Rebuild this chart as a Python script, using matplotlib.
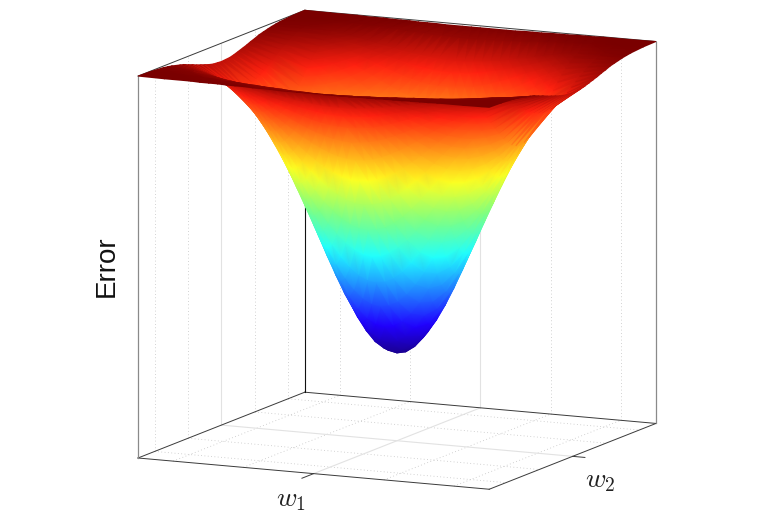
import matplotlib
matplotlib.use("Agg")
import matplotlib.pyplot as plt
import numpy as np
from matplotlib.colors import LinearSegmentedColormap
from matplotlib.tri import Triangulation
from mpl_toolkits.mplot3d import proj3d

# nodes for w >= 0, the surface is mirrored around the minimum
w1_half = [0, .05, .1, .15, .2, .25, .3, .35, .4, .45, .5, .55, .6, .65, .7, .85, 1]
w2_half = [0, .05, .1, .15, .2, .25, .3, .35, .4, .45, .5, .55, .6, .65, .7, .85, 1]

# error, rows are w1, columns are w2 (box height = 1)
error_quarter = [
    [.230, .240, .268, .312, .370, .437, .509, .583, .654, .720, .779, .830, .873, .907, .934, .979, .995],
    [.235, .245, .273, .317, .374, .441, .512, .586, .656, .722, .781, .831, .874, .908, .934, .979, .995],
    [.251, .260, .288, .331, .387, .452, .523, .594, .664, .728, .785, .835, .876, .909, .935, .980, .995],
    [.277, .286, .312, .354, .408, .471, .539, .608, .675, .737, .793, .841, .880, .913, .938, .981, .995],
    [.311, .320, .345, .384, .436, .496, .561, .627, .690, .750, .803, .848, .886, .917, .941, .981, .995],
    [.353, .361, .384, .422, .470, .526, .587, .649, .709, .765, .815, .857, .893, .922, .944, .983, .996],
    [.400, .408, .430, .464, .509, .561, .618, .675, .731, .782, .828, .868, .901, .928, .948, .984, .996],
    [.452, .459, .479, .510, .551, .599, .651, .703, .754, .801, .843, .879, .909, .934, .953, .985, .996],
    [.506, .512, .530, .559, .596, .639, .685, .732, .778, .821, .859, .891, .918, .940, .957, .987, .997],
    [.561, .567, .583, .608, .641, .679, .720, .762, .803, .841, .874, .903, .928, .947, .962, .988, .997],
    [.616, .620, .634, .656, .685, .719, .755, .792, .827, .860, .890, .915, .936, .954, .967, .990, .997],
    [.668, .672, .684, .703, .728, .757, .788, .820, .851, .879, .905, .927, .945, .960, .971, .991, .998],
    [.717, .720, .731, .747, .768, .793, .819, .846, .873, .897, .919, .938, .953, .966, .976, .992, .998],
    [.762, .765, .773, .787, .805, .826, .848, .871, .893, .913, .932, .948, .961, .971, .979, .994, .998],
    [.803, .805, .812, .824, .838, .856, .874, .893, .911, .928, .943, .956, .967, .976, .983, .995, .999],
    [.897, .898, .902, .908, .915, .924, .934, .944, .954, .962, .970, .977, .983, .988, .991, .997, .999],
    [.952, .953, .954, .957, .961, .965, .969, .974, .978, .983, .986, .989, .992, .994, .996, .999, 1.00],
]

grid_minor = [-.8, -.4, .4, .8]
grid_major = [0]
w_min, w_max = -1, 1
err_min, err_max = 0, 1

W = 781
H = 532

# jet as the picture shows it, the channels never quite reach zero
surface_cmap = LinearSegmentedColormap.from_list("jet_soft", [
    (0, "#1a0090"), (.11, "#2000ff"), (.36, "#20ffff"), (.5, "#80ff80"),
    (.64, "#ffff20"), (.89, "#ff2010"), (1, "#7a0000")])

plt.rcParams["mathtext.fontset"] = "cm"

half1 = np.array(w1_half)
half2 = np.array(w2_half)
w1 = np.r_[-half1[:0:-1], half1]
w2 = np.r_[-half2[:0:-1], half2]
q = np.array(error_quarter)
q = np.hstack([q[:, :0:-1], q])
err = np.vstack([q[:0:-1], q])

fig = plt.figure(figsize=(W / 100, H / 100), dpi=100)
ax = fig.add_axes([0.1, 0.1, 400 / W, 400 / H], projection="3d", proj_type="ortho")
ax.set_xlim(w_min, w_max, view_margin=0)
ax.set_ylim(w_min, w_max, view_margin=0)
ax.set_zlim(err_min, err_max, view_margin=0)
ax.set_box_aspect((1, 1, 1))
ax.view_init(elev=10.8, azim=-64.6)
ax.set_axis_off()
ax.patch.set_alpha(0)
ax.M = ax.get_proj()


def to_screen(x, y, z):
    tx, ty, _ = proj3d.proj_transform(np.array([x]), np.array([y]), np.array([z]), ax.M)
    return ax.transData.transform(np.column_stack([tx, ty]))[0]


# put the box where the reference has it: left corner at x=138, 518 px wide
ax.apply_aspect()
span = to_screen(w_max, w_max, err_min)[0] - to_screen(w_min, w_min, err_min)[0]
side = 400 * 518 / span
ax.set_position([0.1, 0.1, side / W, side / H])
ax.apply_aspect()
left = to_screen(w_min, w_min, err_min)
pos = ax.get_position()
ax.set_position([pos.x0 + (138 - left[0]) / W, pos.y0 + (H - 458 - left[1]) / H, pos.width, pos.height])
ax.apply_aspect()


def line3d(xs, ys, zs, **kw):
    ax.plot(xs, ys, zs, clip_on=False, **kw)


frame = dict(color="#3a3a3a", lw=0.7)
edge = dict(color="#8a8a8a", lw=0.9)
dots = dict(color="#c4c4c4", lw=0.6, ls=(0, (1, 3)))
solid = dict(color="#e2e2e2", lw=0.8)

# walls and floor grid
for vals, style in [(grid_minor, dots), (grid_major, solid)]:
    for v in vals:
        line3d([v, v], [w_max, w_max], [err_min, err_max], **style)
        line3d([w_min, w_min], [v, v], [err_min, err_max], **style)
        line3d([v, v], [w_min, w_max], [err_min, err_min], **style)
        line3d([w_min, w_max], [v, v], [err_min, err_min], **style)

# box
line3d([w_min, w_max], [w_min, w_min], [err_min, err_min], **frame)
line3d([w_max, w_max], [w_min, w_max], [err_min, err_min], **frame)
line3d([w_min, w_max], [w_max, w_max], [err_min, err_min], **frame)
line3d([w_min, w_min], [w_min, w_max], [err_min, err_min], **frame)
line3d([w_min, w_min], [w_min, w_max], [err_max, err_max], **frame)
line3d([w_min, w_max], [w_max, w_max], [err_max, err_max], **frame)
line3d([w_min, w_min], [w_min, w_min], [err_min, err_max], **edge)
line3d([w_max, w_max], [w_max, w_max], [err_min, err_max], **edge)
line3d([w_min, w_min], [w_max, w_max], [err_min, err_max], color="#111111", lw=0.8)

# ticks
line3d([0, 0], [w_min, w_min - .14], [err_min, err_min], **frame)
line3d([w_max, w_max + .07], [0, 0], [err_min, err_min], **frame)

# surface, sorted back to front and drawn with interpolated shading
xx, yy = np.meshgrid(w1, w2, indexing="ij")
flat = err.ravel()
tx, ty, tz = proj3d.proj_transform(xx.ravel(), yy.ravel(), flat, ax.M)
n1, n2 = xx.shape
tris = []
for i in range(n1 - 1):
    for j in range(n2 - 1):
        a = i * n2 + j
        b = a + 1
        c = a + n2
        d = c + 1
        # split each quad along the side closest to a contour line, less zigzag
        if abs(flat[a] - flat[d]) < abs(flat[b] - flat[c]):
            tris.append([a, b, d])
            tris.append([a, d, c])
        else:
            tris.append([a, b, c])
            tris.append([b, d, c])
tris = np.array(tris)
tris = tris[np.argsort(-tz[tris].mean(axis=1))]

top = fig.add_axes([0, 0, 1, 1])
top.axis("off")
top.tripcolor(Triangulation(tx, ty, tris), flat, shading="gouraud", cmap=surface_cmap,
              vmin=err.min(), vmax=err.max(), transform=ax.transData, clip_on=False)

fig.text(107 / W, 1 - 266 / H, "Error", rotation=90, ha="center", va="center",
         fontsize=20, family="Liberation Sans", color="#111111")
fig.text(291 / W, 1 - 499 / H, r"$w_1$", ha="center", va="center", fontsize=20, color="#222222")
fig.text(600 / W, 1 - 480 / H, r"$w_2$", ha="center", va="center", fontsize=20, color="#222222")

fig.savefig("out.png", dpi=100)
